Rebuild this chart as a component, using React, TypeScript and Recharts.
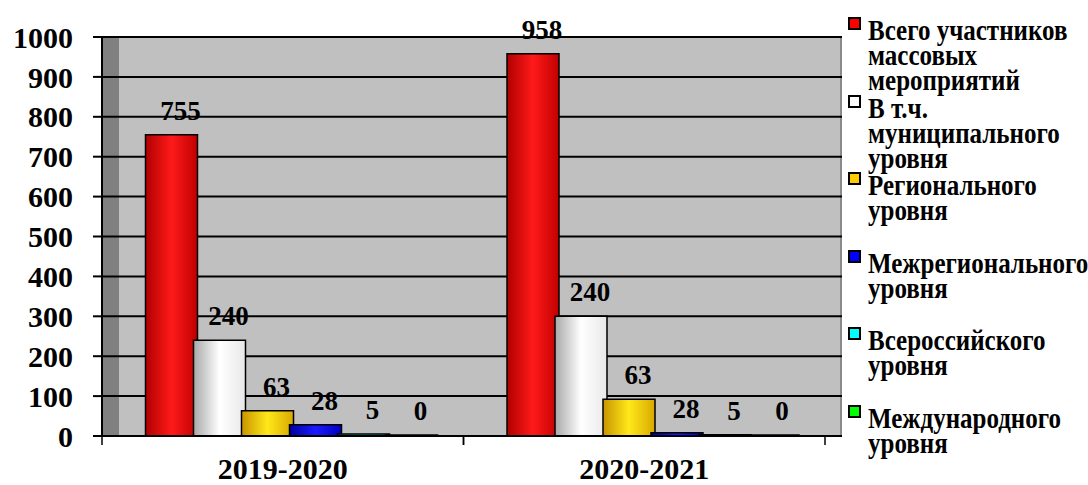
import React from 'react';
import { BarChart, Bar, XAxis, YAxis, CartesianGrid, LabelList } from 'recharts';

// categories (school years)
const categories = ['2019-2020', '2020-2021'];

// bar heights as drawn
const totalValues = [755, 958];
const municipalValues = [240, 300];
const regionalValues = [63, 92];
const interregionalValues = [28, 8];
const russianValues = [5, 3];
const internationalValues = [0, 0];

// numbers printed above the bars
const totalLabels = ['755', '958'];
const municipalLabels = ['240', '240'];
const regionalLabels = ['63', '63'];
const interregionalLabels = ['28', '28'];
const russianLabels = ['5', '5'];
const internationalLabels = ['0', '0'];

const yTicks = [0, 100, 200, 300, 400, 500, 600, 700, 800, 900, 1000];

const seriesNames = [
  'Всего участников\nмассовых\nмероприятий',
  'В т.ч.\nмуниципального\nуровня',
  'Регионального\nуровня',
  'Межрегионального\nуровня',
  'Всероссийского\nуровня',
  'Международного\nуровня',
];

const seriesValues = [totalValues, municipalValues, regionalValues, interregionalValues, russianValues, internationalValues];
const seriesLabels = [totalLabels, municipalLabels, regionalLabels, interregionalLabels, russianLabels, internationalLabels];

// legend colour, and gradient stops (edge, highlight, edge) for the fake 3d shading
const seriesColors = ['#ff0000', '#ffffff', '#ffcc00', '#0000ff', '#00ffff', '#00ff00'];
const seriesShades = [
  ['#b00000', '#ff1a1a', '#c00000'],
  ['#a8a8a8', '#ffffff', '#e8e8e8'],
  ['#c89400', '#ffe81a', '#d8a800'],
  ['#0000a0', '#1a1aff', '#0000c0'],
  ['#00a0a0', '#1affff', '#00c0c0'],
  ['#00a000', '#1aff1a', '#00c000'],
];

const data = categories.map((category, i) => {
  const row: Record<string, string | number> = { category };
  seriesValues.forEach((vals, s) => {
    row[`s${s}`] = vals[i];
  });
  return row;
});

const FONT = '"Liberation Serif", "Times New Roman", serif';

// layout
const W = 1088;
const H = 485;
const PLOT_LEFT = 102;
const PLOT_RIGHT = 842;
const PLOT_TOP = 37;
const PLOT_BOTTOM = 436;
const DEPTH = 17; // left wall depth
const BAND_SHIFT = 8.5; // front edge of the floor vs. bar row
const HALF_BAND = (PLOT_RIGHT - PLOT_LEFT - DEPTH) / categories.length / 2;

const CategoryTick = (props: any) => {
  const { x, y, payload } = props;
  const cx = x - BAND_SHIFT;
  return (
    <g>
      <line x1={cx - HALF_BAND} x2={cx - HALF_BAND} y1={PLOT_BOTTOM} y2={PLOT_BOTTOM + 9} stroke="#000" strokeWidth={1.5} />
      <line x1={cx + HALF_BAND} x2={cx + HALF_BAND} y1={PLOT_BOTTOM} y2={PLOT_BOTTOM + 9} stroke="#000" strokeWidth={1.5} />
      <text x={cx} y={y} dy={35} textAnchor="middle" fontFamily={FONT} fontWeight="bold" fontSize={30} fill="#000">
        {payload.value}
      </text>
    </g>
  );
};

const makeLabel = (labels: string[]) => (props: any) => {
  const { x, y, width, index } = props;
  return (
    <text
      x={x + width / 2 + 9}
      y={y - 15}
      textAnchor="middle"
      fontFamily={FONT}
      fontWeight="bold"
      fontSize={27}
      fill="#000"
    >
      {labels[index]}
    </text>
  );
};

const SideLegend = () => (
  <div style={{ position: 'absolute', left: 0, top: 0 }}>
    {seriesNames.map((name, i) => (
      <div key={name} style={{ position: 'absolute', left: 848, top: 17 + i * 77.6 }}>
        <div
          style={{
            position: 'absolute',
            left: 0,
            top: 0,
            width: 9,
            height: 9,
            border: '2px solid #000',
            background: seriesColors[i],
          }}
        />
        <div
          style={{
            position: 'absolute',
            left: 20,
            top: 0,
            whiteSpace: 'pre',
            fontFamily: FONT,
            fontWeight: 'bold',
            fontSize: 25,
            lineHeight: '21px',
            color: '#000',
            transform: 'scaleY(1.2)',
            transformOrigin: 'top left',
          }}
        >
          {name}
        </div>
      </div>
    ))}
  </div>
);

export default function App() {
  return (
    <div style={{ position: 'absolute', left: 0, top: 0, width: W, height: H, background: '#fff', overflow: 'hidden' }}>
      {/* back wall and left wall */}
      <div
        style={{
          position: 'absolute',
          left: PLOT_LEFT,
          top: PLOT_TOP,
          width: PLOT_RIGHT - PLOT_LEFT,
          height: PLOT_BOTTOM - PLOT_TOP,
          background: '#c0c0c0',
          boxSizing: 'border-box',
          borderRight: '2px solid #8a8a8a',
        }}
      />
      <div
        style={{
          position: 'absolute',
          left: PLOT_LEFT,
          top: PLOT_TOP,
          width: DEPTH,
          height: PLOT_BOTTOM - PLOT_TOP,
          background: '#808080',
        }}
      />
      <div style={{ position: 'absolute', left: 0, top: 0 }}>
        <BarChart
          width={W}
          height={H}
          data={data}
          margin={{ top: PLOT_TOP, right: W - PLOT_RIGHT, bottom: 0, left: 12 }}
          barSize={52}
          barGap={-4}
        >
          <defs>
            {seriesShades.map((stops, i) => (
              <linearGradient key={i} id={`shade${i}`} x1="0" y1="0" x2="1" y2="0">
                <stop offset="0%" stopColor={stops[0]} />
                <stop offset="50%" stopColor={stops[1]} />
                <stop offset="100%" stopColor={stops[2]} />
              </linearGradient>
            ))}
          </defs>
          <CartesianGrid vertical={false} stroke="#000" strokeWidth={2} horizontalValues={yTicks} />
          <XAxis
            dataKey="category"
            height={H - PLOT_BOTTOM}
            padding={{ left: BAND_SHIFT, right: DEPTH - BAND_SHIFT }}
            axisLine={{ stroke: '#000', strokeWidth: 2 }}
            tickLine={false}
            tickSize={8}
            tickMargin={0}
            tick={<CategoryTick />}
            interval={0}
          />
          <YAxis
            width={PLOT_LEFT - 12}
            domain={[0, 1000]}
            ticks={yTicks}
            interval={0}
            axisLine={{ stroke: '#000', strokeWidth: 2 }}
            tickLine={{ stroke: '#000', strokeWidth: 2 }}
            tickSize={9}
            tickMargin={20}
            tick={{ fontFamily: FONT, fontWeight: 'bold', fontSize: 30, fill: '#000' }}
          />
          {seriesValues.map((_, s) => (
            <Bar
              key={s}
              dataKey={`s${s}`}
              fill={`url(#shade${s})`}
              stroke="#000"
              strokeWidth={1.5}
              minPointSize={1}
              isAnimationActive={false}
            >
              <LabelList dataKey={`s${s}`} content={makeLabel(seriesLabels[s])} />
            </Bar>
          ))}
        </BarChart>
      </div>
      <SideLegend />
    </div>
  );
}
